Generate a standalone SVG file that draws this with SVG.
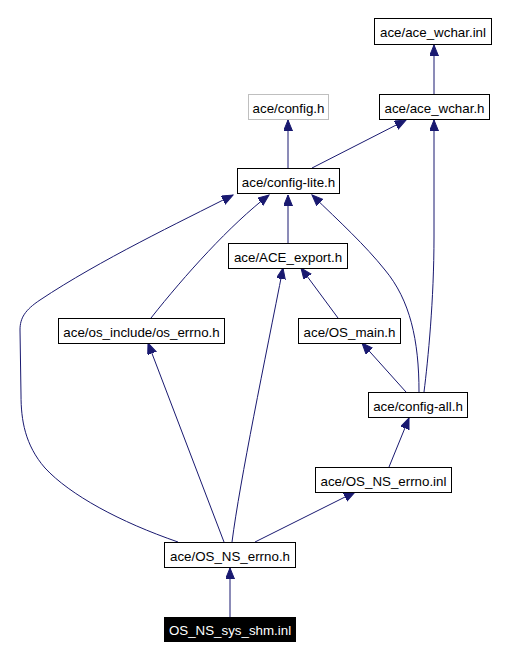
<svg xmlns="http://www.w3.org/2000/svg" width="507" height="659" viewBox="0 0 507 659">
<style>
.n rect{fill:#fff;stroke:#000;stroke-width:1}
.n.g rect{stroke:#bfbfbf}
.n.h rect{fill:#000}
.n text{font-family:"Liberation Sans",Arial,sans-serif;font-size:13.33px;text-anchor:middle;fill:#000}
.n.h text{fill:#fff}
.e path{fill:none;stroke:#191970;stroke-width:1;marker-end:url(#a)}
</style>
<defs>
<marker id="a" markerUnits="userSpaceOnUse" markerWidth="12" markerHeight="10" refX="11" refY="4.5" orient="auto">
<path d="M0,0 L11,4.5 L0,9 z" fill="#191970" stroke="#191970" stroke-width="1"/>
</marker>
</defs>
<rect width="507" height="659" fill="#fff"/>
<g class="e">
<path d="M434,94 L434,45"/>
<path d="M288,168 L288,120"/>
<path d="M312,168 L406,120"/>
<path d="M424,392 C428,360 434,300 434,237 L434,120"/>
<path d="M288,243 L288,195"/>
<path d="M151,318 C185,275 230,225 269,195"/>
<path d="M178,542 C120,522 70,495 45,468 C25,445 21,420 21,395 L20,330 C20,318 25,310 40,300 C100,260 180,222 233,195"/>
<path d="M419,392 C419,340 410,300 385,270 C365,245 340,222 312,195"/>
<path d="M338,318 L301,268"/>
<path d="M232,542 C240,480 265,360 283,268"/>
<path d="M224,542 L148,343"/>
<path d="M406,392 L362,343"/>
<path d="M389,467 L409,418"/>
<path d="M255,542 L355,492"/>
<path d="M230,617 L230,568"/>
</g>
<g id="ace_wchar_inl" class="n"><rect x="374.5" y="18.5" width="117" height="26"/><text x="433" y="37">ace/ace_wchar.inl</text></g>
<g id="config_h" class="n g"><rect x="248.5" y="94.5" width="80" height="25"/><text x="288.5" y="112.5">ace/config.h</text></g>
<g id="ace_wchar_h" class="n"><rect x="379.5" y="94.5" width="110" height="25"/><text x="434.5" y="112.5">ace/ace_wchar.h</text></g>
<g id="config_lite_h" class="n"><rect x="237.5" y="168.5" width="102" height="25"/><text x="288.5" y="186.5">ace/config-lite.h</text></g>
<g id="ACE_export_h" class="n"><rect x="228.5" y="243.5" width="119" height="25"/><text x="288" y="261.5">ace/ACE_export.h</text></g>
<g id="os_errno_h" class="n"><rect x="58.5" y="318.5" width="166" height="25"/><text x="141.5" y="336.5">ace/os_include/os_errno.h</text></g>
<g id="OS_main_h" class="n"><rect x="298.5" y="318.5" width="102" height="25"/><text x="349.5" y="336.5">ace/OS_main.h</text></g>
<g id="config_all_h" class="n"><rect x="368.5" y="392.5" width="99" height="25"/><text x="418" y="410.5">ace/config-all.h</text></g>
<g id="OS_NS_errno_inl" class="n"><rect x="315.5" y="467.5" width="136" height="25"/><text x="383.5" y="485.5">ace/OS_NS_errno.inl</text></g>
<g id="OS_NS_errno_h" class="n"><rect x="164.5" y="542.5" width="131" height="25"/><text x="230" y="560.5">ace/OS_NS_errno.h</text></g>
<g id="OS_NS_sys_shm_inl" class="n h"><rect x="164.5" y="617.5" width="131" height="24"/><text x="230" y="635">OS_NS_sys_shm.inl</text></g>
</svg>
